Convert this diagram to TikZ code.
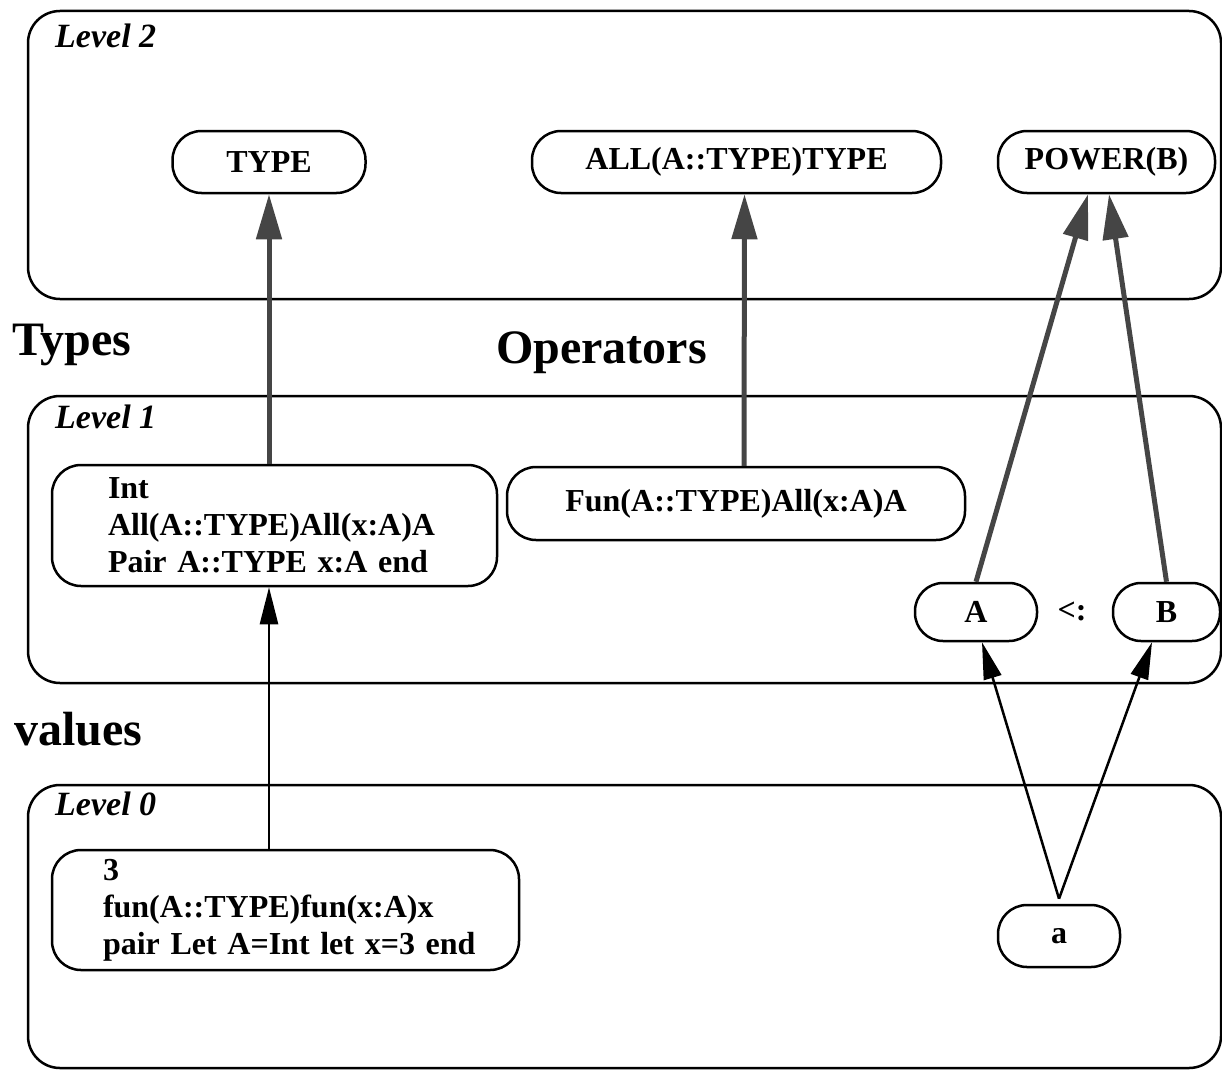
\documentclass[tikz,border=0pt]{standalone}
\usepackage{fontspec}
\setmainfont{Liberation Serif}
\usetikzlibrary{arrows.meta,calc}
\definecolor{arrgray}{HTML}{454545}
\begin{document}
\begin{tikzpicture}[x=1pt,y=-1pt,
  lvlbox/.style={draw, line width=2.5pt, rounded corners=32pt, minimum width=1193pt, inner sep=0pt},
  nbox/.style={draw, line width=2.5pt, rounded corners=29pt, inner sep=0pt, font=\bfseries\fontsize{32pt}{37pt}\selectfont},
  lvllabel/.style={anchor=base west, inner sep=0pt, font=\bfseries\itshape\fontsize{34pt}{40pt}\selectfont},
  biglabel/.style={anchor=base west, inner sep=0pt, font=\bfseries\fontsize{48pt}{54pt}\selectfont},
  garrow/.style={draw=arrgray, line width=5pt, -{Triangle[length=45pt,width=25pt]}, arrgray},
  barrow/.style={draw=black, line width=2.5pt, -{Triangle[length=37pt,width=18pt]}}
]
\useasboundingbox (0,0) rectangle (1222,1070);

% level boxes
\node[lvlbox, minimum height=288pt] (L2) at (624.5,155) {};
\node[lvlbox, minimum height=287pt] (L1) at (624.5,539.5) {};
\node[lvlbox, minimum height=283pt] (L0) at (624.5,926.5) {};

\node[lvllabel] (lv2) at (55,48) {Level 2};
\node[lvllabel] (lv1) at (55,428) {Level 1};
\node[lvllabel] (lv0) at (55,815) {Level 0};

\node[biglabel] (types) at (12,355) {Types};
\node[biglabel] (ops) at (496,363) {Operators};
\node[biglabel] (vals) at (14,745) {values};

% level 2 nodes
\node[nbox, minimum width=193pt, minimum height=62pt] (type) at (269,162) {TYPE};
\node[nbox, minimum width=409pt, minimum height=62pt] (all) at (736.5,162) {ALL(A::TYPE)TYPE};
\node[nbox, minimum width=217pt, minimum height=62pt] (pw) at (1106.5,162) {POWER(B)};

% level 1 nodes
\node[nbox, minimum width=445pt, minimum height=121pt, align=left, text width=333pt] (int) at (274.5,525.5)
  {\mbox{Int}\\\mbox{All(A::TYPE)All(x:A)A}\\\mbox{Pair A::TYPE x:A end}};
\node[nbox, minimum width=458pt, minimum height=73pt] (fun) at (736,503.5) {Fun(A::TYPE)All(x:A)A};
\node[nbox, minimum width=122pt, minimum height=58pt, rounded corners=28pt] (A) at (976,612) {A};
\node[nbox, minimum width=107pt, minimum height=58pt, rounded corners=28pt] (B) at (1166.5,612) {B};
\node[font=\bfseries\fontsize{32pt}{37pt}\selectfont, inner sep=0pt] (sub) at (1072,611) {<:};

% level 0 nodes
\node[nbox, minimum width=467pt, minimum height=120pt, align=left, text width=365pt] (three) at (285.5,910)
  {\mbox{3}\\\mbox{fun(A::TYPE)fun(x:A)x}\\\mbox{pair Let A=Int let x=3 end}};
\node[nbox, minimum width=122pt, minimum height=62pt] (a) at (1059,936) {a};

% connectors
\draw[garrow] (int.north -| type.south) -- (type.south);
\draw[garrow] ($(fun.north)+(8,0)$) -- ($(all.south)+(8,0)$);
\draw[garrow] (A.north) -- ($(pw.south)+(-18.5,0)$);
\draw[garrow] (B.north) -- ($(pw.south)+(2.5,0)$);

\draw[barrow] (three.north -| type.south) -- (int.south -| type.south);
\coordinate (apex) at ($(a.north)+(0,-5)$);
\draw[barrow] (apex) -- ($(A.south)+(6,0)$);
\draw[barrow] (apex) -- ($(B.south)+(-14.5,0)$);
\end{tikzpicture}
\end{document}
